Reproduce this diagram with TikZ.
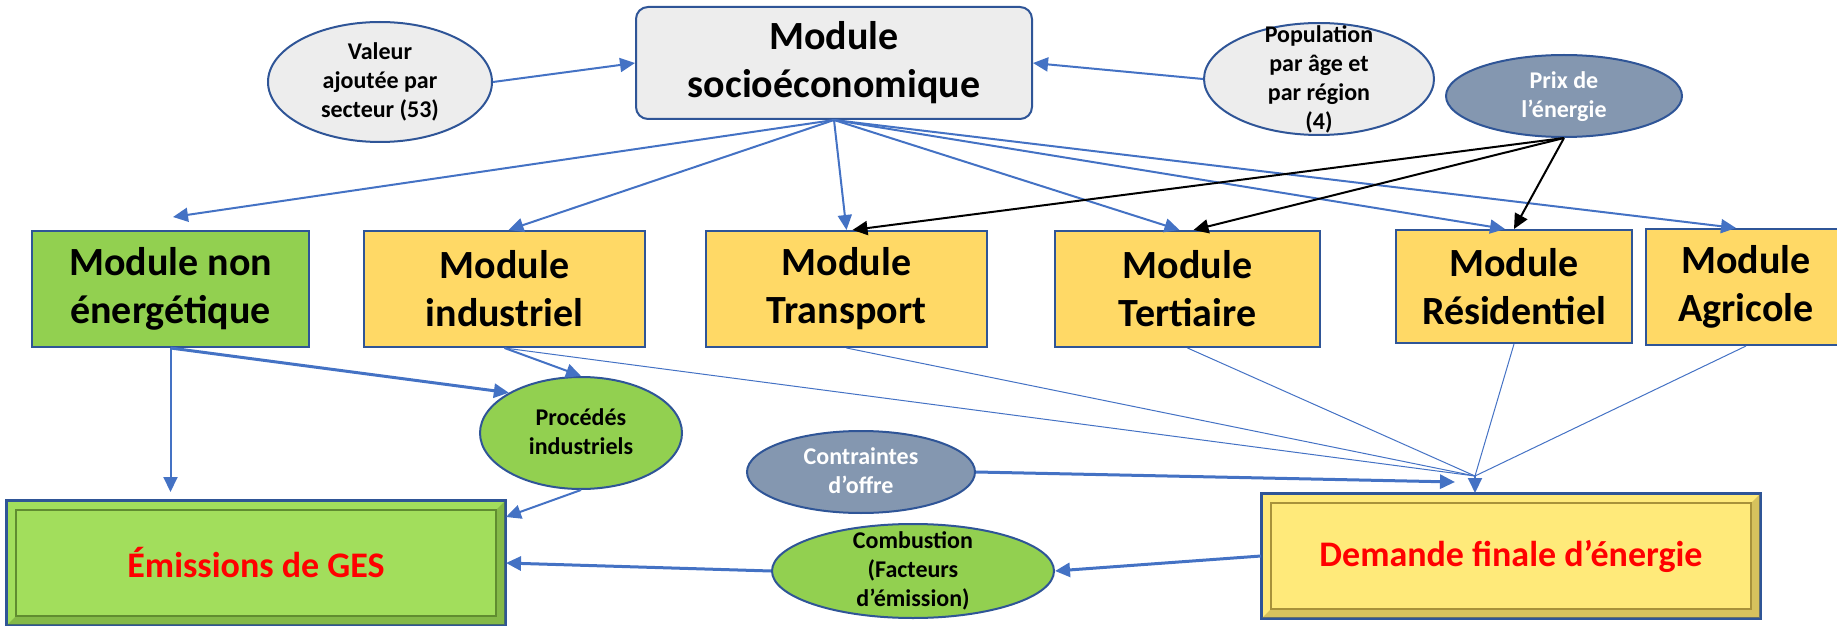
\documentclass[tikz,border=0pt]{standalone}
\usepackage{fontspec}
\setmainfont{Carlito}
\usetikzlibrary{arrows.meta,shapes.geometric}

\definecolor{bordblue}{RGB}{47,85,151}
\definecolor{arrblue}{RGB}{68,114,196}
\definecolor{socgray}{RGB}{237,237,237}
\definecolor{modyellow}{RGB}{255,217,102}
\definecolor{modgreen}{RGB}{146,208,80}
\definecolor{slate}{RGB}{132,151,176}
\definecolor{emisgreen}{RGB}{162,222,92}
\definecolor{emisdark}{RGB}{96,140,48}
\definecolor{demyellow}{RGB}{255,234,122}
\definecolor{demdark}{RGB}{168,146,58}

\newcommand{\ovtext}[1]{\smash{\raisebox{-3.5pt}{\begin{tabular}{@{}c@{}}#1\end{tabular}}}}

\tikzset{
  bigfont/.style={font=\fontsize{20}{24}\selectfont\bfseries},
  smallfont/.style={font=\fontsize{12}{14.5}\selectfont\bfseries},
  modbox/.style={rectangle, draw=bordblue, line width=1pt, fill=modyellow,
    minimum height=58pt, inner sep=0pt, align=center, bigfont},
  oval/.style={ellipse, draw=bordblue, line width=1pt, inner sep=0pt, smallfont},
  bevelbox/.style={rectangle, draw=bordblue, line width=1pt, minimum width=249pt,
    minimum height=62pt, text=red, font=\fontsize{18}{21}\selectfont\bfseries},
  blu/.style={draw=arrblue, line width=1pt, -{Triangle[length=7.5pt,width=7pt]}},
  blk/.style={draw=black, line width=1pt, -{Triangle[length=7.5pt,width=7pt]}},
  feed/.style={draw=arrblue, line width=0.5pt},
}

\begin{document}
\begin{tikzpicture}[x=0.5pt,y=-0.5pt]
    \useasboundingbox (0,0) rectangle (1837,626);
    % top row
    \node[rectangle, rounded corners=6pt, draw=bordblue, line width=1pt, fill=socgray,
      minimum width=198pt, minimum height=56pt, align=center, bigfont] (socio) at (834,63) {Module\\socioéconomique};
    \node[oval, fill=socgray, minimum width=112pt, minimum height=60pt] (valeur) at (380,82) {\ovtext{Valeur\\ajoutée par\\secteur (53)}};
    \node[oval, fill=socgray, minimum width=115pt, minimum height=56pt] (popul) at (1319,79) {\ovtext{Population\\par âge et\\par région\\(4)}};
    \node[oval, fill=slate, text=white, minimum width=118pt, minimum height=41pt] (prix) at (1564,96) {\ovtext{Prix de\\l’énergie}};
    % modules
    \node[modbox, fill=modgreen, minimum width=138.5pt] (nonen) at (170.5,289) {Module non\\énergétique};
    \node[modbox, minimum width=140.5pt] (indus) at (504.5,289) {Module\\industriel};
    \node[modbox, minimum width=140.5pt] (transp) at (846.5,289) {Module\\Transport};
    \node[modbox, minimum width=132.5pt] (tert) at (1187.5,289) {Module\\Tertiaire};
    \node[modbox, minimum width=118pt, minimum height=56.5pt] (resid) at (1514,286.5) {Module\\Résidentiel};
    \node[modbox, minimum width=100pt] (agri) at (1746,287) {Module\\Agricole};
    % bottom part
    \node[oval, fill=modgreen, minimum width=101pt, minimum height=56pt] (proc) at (581,433) {\ovtext{Procédés\\industriels}};
    \node[oval, fill=slate, text=white, minimum width=114pt, minimum height=41pt] (contr) at (861,472) {\ovtext{Contraintes\\d’offre}};
    \node[oval, fill=modgreen, minimum width=141pt, minimum height=47pt] (comb) at (913,571) {\ovtext{Combustion\\(Facteurs\\d’émission)}};
    \node[bevelbox, fill=emisgreen] (emis) at (256,563) {Émissions de GES};
    \node[bevelbox, fill=demyellow] (dem) at (1511,556) {Demande finale d’énergie};
    \foreach \b/\c in {emis/emisdark, dem/demdark} {
      \fill[\c, opacity=0.45] (\b.south west) -- (\b.south east) -- (\b.north east)
        -- ([shift={(-5pt,-5pt)}]\b.north east) -- ([shift={(-5pt,5pt)}]\b.south east)
        -- ([shift={(5pt,5pt)}]\b.south west) -- cycle;
      \draw[\c, line width=0.8pt] ([shift={(5pt,-5pt)}]\b.north west) rectangle ([shift={(-5pt,5pt)}]\b.south east);
      \draw[bordblue, line width=1pt] (\b.south west) rectangle (\b.north east);
    }
    % connectors
    \draw[blu] (valeur.east) -- (socio.west);
    \draw[blu] (popul.west) -- (socio.east);
    \coordinate (nonen-top) at (173,217);
    \draw[blu] (socio.south) -- (nonen-top);
    \draw[blu] (socio.south) -- ([xshift=2pt]indus.north);
    \draw[blu] (socio.south) -- (transp.north);
    \draw[blu] (socio.south) -- ([xshift=-4pt]tert.north);
    \draw[blu] (socio.south) -- ([xshift=-4.5pt]resid.north);
    \draw[blu] (socio.south) -- ([xshift=-5pt]agri.north);
    \draw[blk] (prix.south) -- ([xshift=3pt]transp.north);
    \draw[blk] (prix.south) -- ([xshift=3pt]tert.north);
    \draw[blk] (prix.south) -- (resid.north);
    \draw[blu, shorten >=4pt] (nonen.south) -- (nonen.south |- emis.north);
    \draw[blu, line width=1.5pt] (nonen.south) -- (proc.north west);
    \draw[blu] (indus.south) -- (proc.north);
    \draw[blu] (proc.south) -- ([yshift=-8.5pt]emis.north east);
    \draw[blu, line width=1.5pt] (comb.west) -- (emis.east);
    \draw[blu, line width=1.5pt] (dem.west) -- (comb.east);
    \coordinate (contr-end) at (1455,482);
    \draw[blu, line width=1.5pt] (contr.east) -- (contr-end);
    \coordinate (dm) at (1475,476);
    \foreach \m in {indus, transp, tert, resid, agri}
      \draw[feed] (\m.south) -- (dm);
    \draw[blu] (dm) -- (dm |- dem.north);
\end{tikzpicture}
\end{document}
